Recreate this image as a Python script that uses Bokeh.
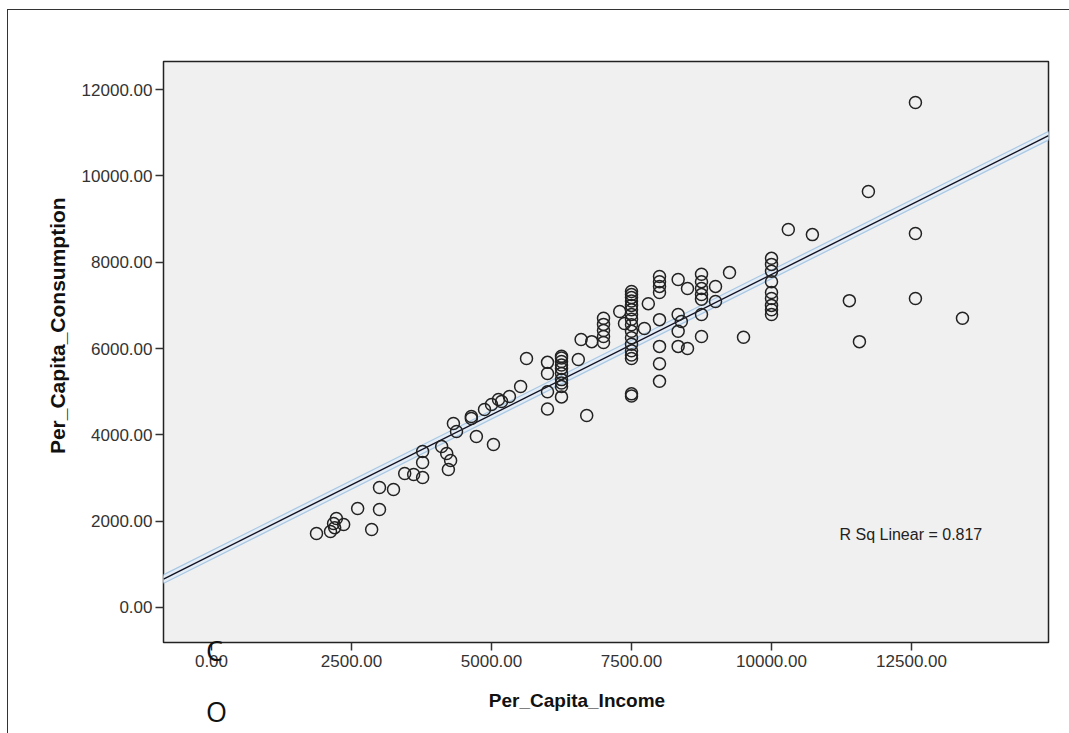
from bokeh.plotting import figure
from bokeh.models import Range1d, Label, FixedTicker, NumeralTickFormatter
from bokeh.embed import file_html
from bokeh.resources import INLINE
import numpy as np

# ---- data ----
income = [
    1875, 2125, 2180, 2230, 2360, 2200, 2610, 2860, 3000, 3000, 3250, 3450, 3610,
    3770, 3770, 3770, 4110, 4200, 4270, 4230, 4320, 4375, 4640, 4640, 4730, 4875,
    5000, 5035, 5125, 5180, 5320, 5520, 5625,
    6000, 6000, 6000, 6000,
    6250, 6250, 6250, 6250, 6250, 6250, 6250, 6250, 6250, 6250,
    6550, 6600, 6790, 6700,
    7000, 7000, 7000, 7000, 7000,
    7290, 7375, 7730,
    7500, 7500, 7500, 7500, 7500, 7500, 7500, 7500, 7500, 7500, 7500, 7500, 7500,
    7500, 7500, 7500, 7500,
    7800,
    8000, 8000, 8000, 8000, 8000, 8000, 8000, 8000,
    8333, 8333, 8333, 8333, 8390,
    8500, 8500,
    8750, 8750, 8750, 8750, 8750, 8750, 8750,
    9000, 9000, 9250, 9500,
    10000, 10000, 10000, 10000, 10000, 10000, 10000, 10000, 10000,
    10300, 10730, 11730, 12570, 12570, 11390, 12570, 13410, 11570,
]
consumption = [
    1715, 1760, 1946, 2062, 1922, 1850, 2294, 1807, 2271, 2780, 2734, 3105, 3081,
    3012, 3360, 3615, 3730, 3568, 3406, 3197, 4263, 4078, 4379, 4425, 3962, 4587,
    4703, 3777, 4819, 4773, 4889, 5121, 5769,
    5680, 5420, 5000, 4600,
    5820, 5780, 5700, 5620, 5540, 5420, 5280, 5200, 5120, 4880,
    5746, 6210, 6160, 4450,
    6700, 6560, 6420, 6280, 6140,
    6860, 6580, 6464,
    7320, 7250, 7180, 7100, 7000, 6900, 6790, 6680, 6550, 6400, 6250, 6100, 5950,
    5850, 5770, 4950, 4900,
    7040,
    7670, 7550, 7440, 7300, 6670, 6050, 5650, 5240,
    7600, 6790, 6400, 6050, 6627,
    7390, 6000,
    7720, 7550, 7390, 7250, 6790, 6280, 7140,
    7440, 7090, 7760, 6260,
    8090, 7950, 7790, 7550, 7300, 7160, 7000, 6900, 6790,
    8760, 8640, 9640, 11700, 8665, 7110, 7160, 6700, 6160,
]
fit_intercept = 1217.0
fit_slope = 0.650
r_sq_text = "R Sq Linear = 0.817"
x_ticks = [0, 2500, 5000, 7500, 10000, 12500]
y_ticks = [0, 2000, 4000, 6000, 8000, 10000, 12000]
x_title = "Per_Capita_Income"
y_title = "Per_Capita_Consumption"
stray_texts = ["C", "O"]

x_lo, x_hi = -857, 14946
y_lo, y_hi = -811, 12651

p = figure(width=1062, height=724, output_backend="svg", toolbar_location=None,
           x_range=Range1d(x_lo, x_hi), y_range=Range1d(y_lo, y_hi),
           min_border_left=155, min_border_right=22, min_border_top=51, min_border_bottom=92)
p.margin = (9, 0, 0, 7)
p.styles = {"border-top": "1px solid #333", "border-left": "1px solid #333"}

p.background_fill_color = "#f0f0f0"
p.border_fill_color = "white"
p.outline_line_color = "#222222"
p.outline_line_width = 1.5
p.grid.visible = False

for ax in (p.xaxis[0], p.yaxis[0]):
    ax.axis_line_color = None
    ax.major_tick_in = 0
    ax.major_tick_out = 8
    ax.major_tick_line_color = "#333333"
    ax.major_tick_line_width = 1.5
    ax.minor_tick_line_color = None
    ax.major_label_text_font = "Liberation Sans"
    ax.major_label_text_font_size = "17px"
    ax.major_label_text_color = "#333333"
    ax.axis_label_text_font = "Liberation Sans"
    ax.axis_label_text_font_style = "bold"
    ax.axis_label_text_color = "#111111"
    ax.formatter = NumeralTickFormatter(format="0.00")

p.xaxis[0].ticker = FixedTicker(ticks=x_ticks)
p.yaxis[0].ticker = FixedTicker(ticks=y_ticks)
p.xaxis[0].axis_label = x_title + "\u00a0" * 11
p.yaxis[0].axis_label = "\u00a0" * 9 + y_title
p.xaxis[0].axis_label_text_font_size = "19px"
p.yaxis[0].axis_label_text_font_size = "21px"
p.xaxis[0].major_label_standoff = 4
p.yaxis[0].major_label_standoff = 3
p.xaxis[0].axis_label_standoff = 20
p.yaxis[0].axis_label_standoff = 10

# regression line with halo
lx = np.array([x_lo, x_hi])
ly = fit_intercept + fit_slope * lx
p.line(lx, ly, line_width=9, line_color="#a9c8e4", line_cap="round")
p.line(lx, ly, line_width=6.5, line_color="#e4edf6", line_cap="round")
p.line(lx, ly, line_width=1.4, line_color="#111122")

p.scatter(income, consumption, marker="circle", size=12, fill_color=None,
          line_color="#222222", line_width=1.5)

p.add_layout(Label(x=11214, y=1690, text=r_sq_text, text_font="Liberation Sans",
                   text_font_size="16px", text_color="#222222", text_baseline="middle"))

html = file_html(p, INLINE)
stray_style = ("position:absolute;left:{}px;top:{}px;font-family:'Open Sans';"
               "font-size:27px;line-height:27px;color:#111;margin:0;")
extra = "".join(
    '<div style="{}">{}</div>'.format(stray_style.format(206, top), t)
    for t, top in zip(stray_texts, [637, 698])
)
html = html.replace("</body>", extra + "</body>")
open("out.html", "w").write(html)
